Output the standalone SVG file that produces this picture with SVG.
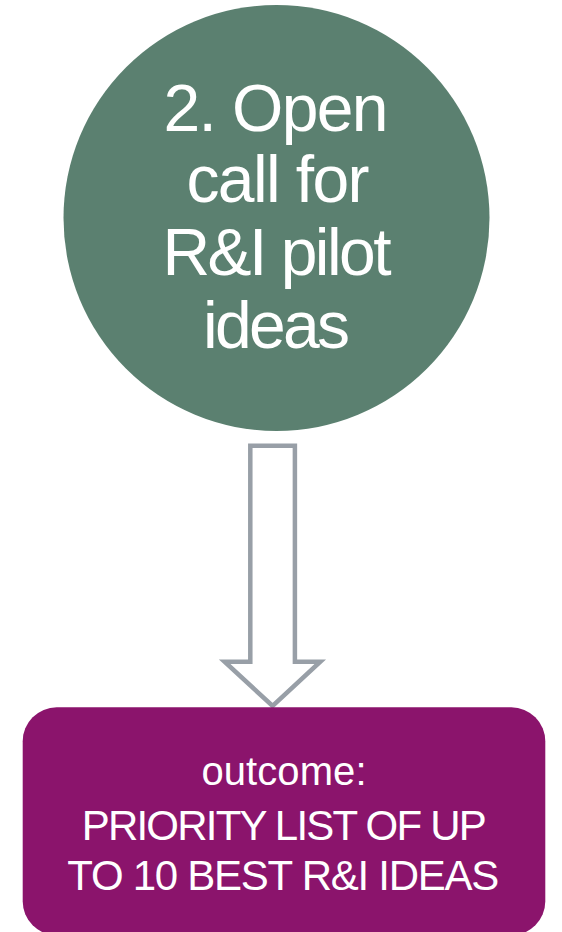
<svg xmlns="http://www.w3.org/2000/svg" width="562" height="932" viewBox="0 0 562 932">
  <style>
    .lbl { font-family: "Liberation Sans", Arial, Helvetica, sans-serif; fill: #ffffff; text-anchor: middle; }
    .big { font-size: 66px; }
    .mid { font-size: 42px; }
    .small { font-size: 40px; }
    .arrow { fill: #ffffff; stroke: #989fa7; stroke-width: 4.5; stroke-linejoin: miter; }
  </style>
  <rect width="562" height="932" fill="#ffffff"/>
  <g id="step2">
    <circle cx="276.5" cy="218" r="213" fill="#5b8070"/>
    <text class="lbl big" x="276" y="130.5" textLength="225">2. Open</text>
    <text class="lbl big" x="278" y="202" textLength="183">call for</text>
    <text class="lbl big" x="277" y="275" textLength="229">R&amp;I pilot</text>
    <text class="lbl big" x="276.5" y="347.5" textLength="147">ideas</text>
  </g>
  <g id="connectors">
    <path class="arrow" d="M250.3,445.7 L294.9,445.7 L294.9,661.7 L320.3,661.7 L272.6,706 L224.6,661.7 L250.3,661.7 Z"/>
  </g>
  <g id="outcome">
    <rect x="22.7" y="707.3" width="522.6" height="228" rx="34" ry="34" fill="#8b146c"/>
    <text class="lbl small" x="284" y="785" textLength="165">outcome:</text>
    <text class="lbl mid" x="284.2" y="839.5" textLength="405">PRIORITY LIST OF UP</text>
    <text class="lbl mid" x="283.3" y="890" textLength="432">TO 10 BEST R&amp;I IDEAS</text>
  </g>
</svg>
